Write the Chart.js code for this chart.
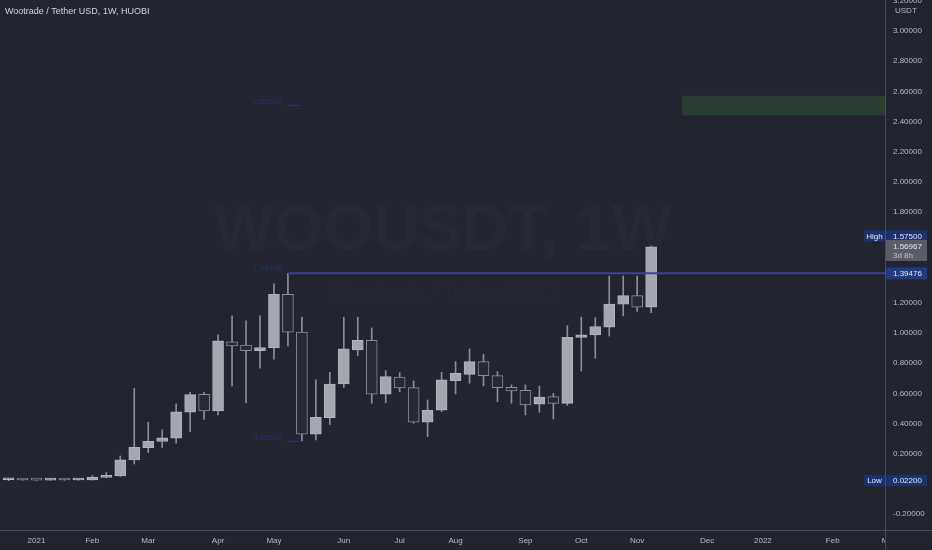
<!DOCTYPE html>
<html>
<head>
<meta charset="utf-8">
<script src="https://cdn.jsdelivr.net/npm/chart.js@4.4.1/dist/chart.umd.min.js"></script>
<style>
  html, body { margin: 0; padding: 0; background: #22252f; }
  canvas { display: block; }
</style>
</head>
<body>
<canvas id="chart" width="932" height="550"></canvas>
<script>
// weekly candles, WOO/USDT on Huobi
const weeks = [
  "2020-12-21", "2020-12-28", "2021-01-04", "2021-01-11", "2021-01-18", "2021-01-25",
  "2021-02-01", "2021-02-08", "2021-02-15", "2021-02-22", "2021-03-01", "2021-03-08",
  "2021-03-15", "2021-03-22", "2021-03-29", "2021-04-05", "2021-04-12", "2021-04-19",
  "2021-04-26", "2021-05-03", "2021-05-10", "2021-05-17", "2021-05-24", "2021-05-31",
  "2021-06-07", "2021-06-14", "2021-06-21", "2021-06-28", "2021-07-05", "2021-07-12",
  "2021-07-19", "2021-07-26", "2021-08-02", "2021-08-09", "2021-08-16", "2021-08-23",
  "2021-08-30", "2021-09-06", "2021-09-13", "2021-09-20", "2021-09-27", "2021-10-04",
  "2021-10-11", "2021-10-18", "2021-10-25", "2021-11-01", "2021-11-08"
];
const opens = [
  0.028, 0.030, 0.026, 0.025, 0.028, 0.026, 0.027, 0.044, 0.053, 0.159, 0.241, 0.281,
  0.303, 0.475, 0.593, 0.483, 0.942, 0.920, 0.883, 0.903, 1.256, 1.005, 0.329, 0.439,
  0.662, 0.887, 0.951, 0.594, 0.707, 0.638, 0.409, 0.488, 0.684, 0.726, 0.810, 0.717,
  0.640, 0.620, 0.528, 0.578, 0.534, 0.971, 0.987, 1.038, 1.190, 1.247, 1.170
];
const highs = [
  0.034, 0.031, 0.028, 0.030, 0.029, 0.030, 0.055, 0.075, 0.185, 0.634, 0.409, 0.358,
  0.530, 0.607, 0.607, 0.987, 1.113, 1.080, 1.113, 1.325, 1.39476, 1.104, 0.689, 0.739,
  1.104, 1.104, 1.033, 0.750, 0.737, 0.682, 0.556, 0.739, 0.810, 0.894, 0.859, 0.744,
  0.656, 0.656, 0.649, 0.600, 1.048, 1.104, 1.102, 1.377, 1.377, 1.377, 1.575
];
const lows = [
  0.022, 0.024, 0.023, 0.024, 0.024, 0.024, 0.025, 0.040, 0.050, 0.132, 0.207, 0.241,
  0.270, 0.346, 0.428, 0.457, 0.649, 0.538, 0.766, 0.826, 0.914, 0.285, 0.291, 0.395,
  0.638, 0.850, 0.534, 0.538, 0.611, 0.402, 0.313, 0.479, 0.596, 0.667, 0.649, 0.545,
  0.534, 0.457, 0.475, 0.430, 0.520, 0.748, 0.832, 0.980, 1.113, 1.142, 1.135
];
const closes = [
  0.030, 0.026, 0.025, 0.028, 0.026, 0.027, 0.044, 0.053, 0.159, 0.243, 0.283, 0.306,
  0.477, 0.592, 0.483, 0.947, 0.914, 0.883, 0.903, 1.256, 1.005, 0.329, 0.441, 0.662,
  0.894, 0.951, 0.594, 0.711, 0.636, 0.409, 0.488, 0.689, 0.733, 0.810, 0.717, 0.638,
  0.616, 0.523, 0.576, 0.534, 0.971, 0.987, 1.042, 1.192, 1.247, 1.170, 1.56967
];

const monthTicks = [
  "2021-01-04", "2021-02-01", "2021-03-01", "2021-04-05", "2021-05-03", "2021-06-07",
  "2021-07-05", "2021-08-02", "2021-09-06", "2021-10-04", "2021-11-01", "2021-12-06",
  "2022-01-03", "2022-02-07", "2022-03-07"
];
const monthLabels = ["2021", "Feb", "Mar", "Apr", "May", "Jun", "Jul", "Aug", "Sep", "Oct", "Nov", "Dec", "2022", "Feb", "Mar"];
const priceTicks = [-0.2, 0, 0.2, 0.4, 0.6, 0.8, 1.0, 1.2, 1.4, 1.6, 1.8, 2.0, 2.2, 2.4, 2.6, 2.8, 3.0, 3.2];

const highLevel = 1.39476;      // horizontal line from the May high
const allHigh = 1.575;
const allLow = 0.022;
const lastPrice = 1.56967;
const countdown = "3d 8h";
const zoneStart = "2021-11-22";
const zoneLow = 2.44;
const zoneHigh = 2.57;
const markTop = 2.51;
const markBottom = 0.285;

const FONT = "'Liberation Sans', Arial, sans-serif";
const BG = "#22252f";
const UP_FILL = "#a4a7b0";
const UP_EDGE = "#b2b5bc";
const DOWN_FILL = "#262a35";
const DOWN_EDGE = "#8b8e97";
const WICK = "#8b8e97";
const AXIS_TEXT = "#b7bac2";
const AXIS_LINE = "#4a4d58";
const TAG_BLUE = "#1b3272";

function weekNo(d) {
    return (Date.parse(d) - Date.parse("2021-01-04")) / 604800000;
}
const isUp = i => closes[i] >= opens[i];

const bodies = weeks.map((d, i) => ({ x: weekNo(d), y: [opens[i], closes[i]] }));
const wicks = weeks.map((d, i) => ({ x: weekNo(d), y: [lows[i], highs[i]] }));

const X_MIN = -2.61, X_MAX = 60.74;

// overlays: background, watermark, zone, tags
const overlay = {
    id: "overlay",
    beforeDraw(chart) {
        const c = chart.ctx;
        c.save();
        c.fillStyle = BG;
        c.fillRect(0, 0, chart.width, chart.height);
        c.restore();
    },
    beforeDatasetsDraw(chart) {
        const c = chart.ctx, a = chart.chartArea;
        const xs = chart.scales.x, ys = chart.scales.y;
        c.save();
        c.textAlign = "center";
        c.textBaseline = "middle";
        c.fillStyle = "#262934";
        c.font = "bold 64px 'Liberation Sans Narrow', " + FONT;
        c.fillText("WOOUSDT, 1W", (a.left + a.right) / 2, 232);
        c.font = "22px " + FONT;
        c.fillStyle = "#242731";
        c.fillText("Wootrade / Tether USD", (a.left + a.right) / 2, 294);

        // target zone
        const zx = xs.getPixelForValue(weekNo(zoneStart) + 0.2);
        const zt = ys.getPixelForValue(zoneHigh), zb = ys.getPixelForValue(zoneLow);
        c.fillStyle = "#2a3e31";
        c.fillRect(zx, zt, a.right - zx, zb - zt);

        // faint blue marks left of the May candles
        const mx = xs.getPixelForValue(weekNo("2021-05-03")) + 14;
        c.fillStyle = "#22307a";
        c.strokeStyle = "#24337f";
        c.lineWidth = 1;
        c.font = "8px " + FONT;
        c.textAlign = "right";
        [[markTop, "2.51000"], [markBottom, "0.28500"]].forEach(([v, t]) => {
            const y = Math.round(ys.getPixelForValue(v)) + 0.5;
            c.fillText(t, mx - 6, y - 4);
            c.beginPath();
            c.moveTo(mx, y);
            c.lineTo(mx + 12, y);
            c.stroke();
        });
        c.fillText(highLevel.toFixed(5), mx - 6, ys.getPixelForValue(highLevel) - 5);
        c.restore();
    },
    afterDraw(chart) {
        const c = chart.ctx, a = chart.chartArea;
        const ys = chart.scales.y;
        c.save();
        // title
        c.fillStyle = "#d1d4dc";
        c.font = "9px " + FONT;
        c.textBaseline = "middle";
        c.textAlign = "left";
        c.fillText("Wootrade / Tether USD, 1W, HUOBI", 5, 12);

        // hide x labels under the price axis
        c.fillStyle = BG;
        c.fillRect(a.right + 1, a.bottom + 1, chart.width - a.right, chart.height - a.bottom);
        c.strokeStyle = AXIS_LINE;
        c.beginPath();
        c.moveTo(a.right + 0.5, a.bottom);
        c.lineTo(a.right + 0.5, chart.height);
        c.moveTo(a.right, a.bottom + 0.5);
        c.lineTo(chart.width, a.bottom + 0.5);
        c.stroke();

        c.fillStyle = AXIS_TEXT;
        c.font = "8px " + FONT;
        c.fillText("USDT", a.right + 10, 11);

        const tag = (y, h, fill, text, color) => {
            c.fillStyle = fill;
            c.fillRect(a.right + 1, y - h / 2, 41, h);
            c.fillStyle = color;
            c.fillText(text, a.right + 8, y + 0.5);
        };
        const side = (y, text) => {
            c.fillStyle = TAG_BLUE;
            c.fillRect(a.right - 21, y - 5.5, 21, 11);
            c.fillStyle = "#e3e5ea";
            c.textAlign = "center";
            c.fillText(text, a.right - 10.5, y + 0.5);
            c.textAlign = "left";
        };

        const yHigh = ys.getPixelForValue(allHigh) - 10;
        side(yHigh, "High");
        tag(yHigh, 11, TAG_BLUE, allHigh.toFixed(5), "#e3e5ea");

        const yLast = ys.getPixelForValue(lastPrice);
        c.fillStyle = "#5a5d67";
        c.fillRect(a.right + 1, yLast - 7, 41, 21);
        c.fillStyle = "#e3e5ea";
        c.fillText(lastPrice.toFixed(5), a.right + 8, yLast);
        c.fillStyle = "#c3c6ce";
        c.fillText(countdown, a.right + 8, yLast + 9);

        tag(ys.getPixelForValue(highLevel), 12, "#1e3b83", highLevel.toFixed(5), "#e3e5ea");

        const yLow = ys.getPixelForValue(allLow);
        side(yLow, "Low");
        tag(yLow, 11, TAG_BLUE, allLow.toFixed(5), "#e3e5ea");
        c.restore();
    }
};

const ctx = document.getElementById("chart").getContext("2d");
const chart = new Chart(ctx, {
    type: "bar",
    data: {
        datasets: [
            {
                type: "line",
                label: "May high",
                data: [{ x: weekNo("2021-05-10"), y: highLevel }, { x: X_MAX, y: highLevel }],
                borderColor: "#3a4291",
                borderWidth: 2,
                pointRadius: 0,
                order: 0
            },
            {
                label: "Body",
                data: bodies,
                grouped: false,
                barThickness: 11,
                minBarLength: 2,
                borderWidth: 1,
                borderSkipped: false,
                backgroundColor: c => isUp(c.dataIndex) ? UP_FILL : DOWN_FILL,
                borderColor: c => isUp(c.dataIndex) ? UP_EDGE : DOWN_EDGE,
                order: 1
            },
            {
                label: "Wick",
                data: wicks,
                grouped: false,
                barThickness: 1,
                backgroundColor: WICK,
                borderWidth: 0,
                order: 2
            }
        ]
    },
    options: {
        responsive: false,
        animation: false,
        layout: { padding: 0 },
        plugins: {
            legend: { display: false },
            tooltip: { enabled: false }
        },
        scales: {
            x: {
                type: "linear",
                offset: false,
                min: X_MIN,
                max: X_MAX,
                grid: { display: false, drawTicks: false, offset: false },
                border: { color: AXIS_LINE },
                afterBuildTicks: s => { s.ticks = monthTicks.map(d => ({ value: weekNo(d) })); },
                afterFit: s => { s.height = 20; s.paddingLeft = 0; s.paddingRight = 0; },
                ticks: {
                    autoSkip: false,
                    maxRotation: 0,
                    padding: 6,
                    color: AXIS_TEXT,
                    font: { family: FONT, size: 8 },
                    callback: (v, i) => monthLabels[i]
                }
            },
            y: {
                type: "linear",
                position: "right",
                min: -0.305,
                max: 3.205,
                grid: { display: false, drawTicks: false },
                border: { color: AXIS_LINE },
                afterBuildTicks: s => { s.ticks = priceTicks.map(v => ({ value: v })); },
                afterFit: s => { s.width = 47; s.paddingTop = 0; s.paddingBottom = 0; },
                ticks: {
                    padding: 8,
                    color: AXIS_TEXT,
                    font: { family: FONT, size: 8 },
                    callback: v => v.toFixed(5)
                }
            }
        }
    },
    plugins: [overlay]
});
</script>
</body>
</html>
